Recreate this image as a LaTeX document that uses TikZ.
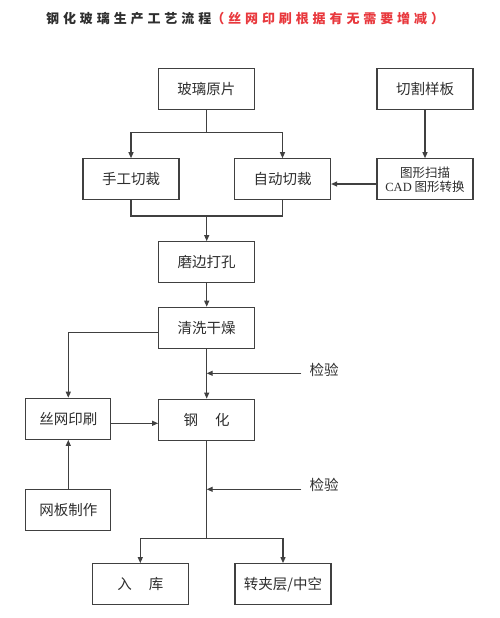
\documentclass[tikz,border=0pt]{standalone}
\usepackage{fontspec}
\setmainfont{Liberation Serif}
\newfontfamily\cjk{Noto Sans CJK SC}
\newfontfamily\cjktitle[LetterSpace=30]{Noto Sans CJK SC}
\usetikzlibrary{arrows.meta}
\usepackage{xcolor}
\definecolor{linegray}{HTML}{404040}
\definecolor{textgray}{HTML}{2E2E2E}
\definecolor{titlered}{HTML}{E8383D}

\begin{document}
\begin{tikzpicture}[x=1pt,y=-1pt]
 \tikzstyle{box}=[draw=linegray, text=textgray, font=\cjk\fontsize{14.5}{16}\selectfont,
                  minimum width=96pt, minimum height=41pt, inner sep=0pt, line width=1.2pt]
 \tikzstyle{sidebox}=[box, minimum width=85pt]
 \tikzstyle{check}=[text=textgray, font=\cjk\fontsize{14.5}{16}\selectfont, inner ysep=0pt, inner xsep=8pt]
 \tikzstyle{arr}=[-{Triangle[length=6pt,width=5pt]}, draw=linegray, line width=1.1pt]
 \tikzstyle{line}=[draw=linegray, line width=1.1pt]

\useasboundingbox (0,0) rectangle (500,618);

\node[anchor=west, inner sep=0pt, font=\cjktitle\bfseries\fontsize{13}{15}\selectfont] (title) at (46,19)
   {\color{textgray}钢化玻璃生产工艺流程\color{titlered}（丝网印刷根据有无需要增减）};

\node[box] (raw) at (206.3,88.8) {玻璃原片};
\node[box] (tmpl) at (425,88.8) {切割样板};
\node[box] (manual) at (131,179.3) {手工切裁};
\node[box] (auto) at (282.5,179.3) {自动切裁};
\node[box, align=center, font=\cjk\fontsize{12.5}{14}\selectfont] (scan) at (425,179.3)
   {图形扫描\\{\rmfamily CAD} 图形转换};
\node[box] (edge) at (206.7,262.2) {磨边打孔};
\node[box] (clean) at (206.7,327.8) {清洗干燥};
\node[sidebox] (print) at (68.3,418.8) {丝网印刷};
\node[box] (temper) at (206.7,419.7) {钢\hspace{17pt}化};
\node[sidebox] (plate) at (68.3,509.7) {网板制作};
\node[box] (store) at (140.3,584.2) {入\hspace{17pt}库};
\node[box] (laminate) at (283,584.2) {转夹层/中空};
\node[check] (check1) at (324,370) {检验};
\node[check] (check2) at (324,485) {检验};

\coordinate (split1) at (206.3,132.7);
\coordinate (join1) at (206.7,216);
\coordinate (hit1) at (206.7,373.3);
\coordinate (hit2) at (206.7,489.3);
\coordinate (split2) at (206.7,538.7);

% cutting
\draw[line] (raw) -- (split1);
\draw[arr] (split1) -| (manual.north);
\draw[arr] (split1) -| (auto.north);
\draw[arr] (tmpl) -- (scan);
\draw[arr] ([yshift=-4.7pt]scan.west) -- ([yshift=-4.7pt]auto.east);
\draw[line] (manual.south) |- (join1) -| (auto.south);
\draw[arr] (join1) -- (edge);
\draw[arr] (edge) -- (clean);

% printing and tempering
\draw[arr] ([yshift=-5pt]clean.west) -| (print.north);
\draw[arr] (clean) -- (temper);
\draw[arr] ([yshift=-3.3pt]check1.west) -- (hit1);
\draw[arr] ([yshift=-4.5pt]print.east) -- ([yshift=-4.5pt]print.east -| temper.west);
\draw[arr] (plate) -- (print);

% finishing
\draw[line] (temper) -- (split2);
\draw[arr] ([yshift=-4.3pt]check2.west) -- (hit2);
\draw[arr] (split2) -| (store.north);
\draw[arr] (split2) -| (laminate.north);

\end{tikzpicture}
\end{document}
